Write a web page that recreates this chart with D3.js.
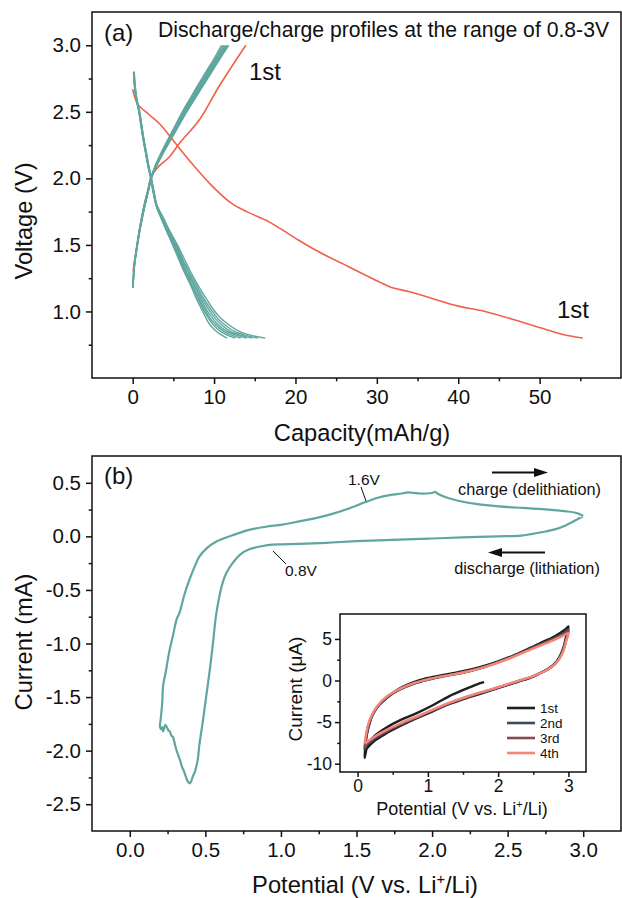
<!DOCTYPE html>
<html><head><meta charset="utf-8">
<script src="https://cdn.jsdelivr.net/npm/d3@7"></script>
<style>html,body{margin:0;padding:0;background:#fff;} svg{display:block;}</style>
</head><body><svg id="c" width="622" height="898"></svg>
<script>
// ---------- Panel (a) data ----------
const capTicks = [0, 10, 20, 30, 40, 50];
const capMinor = [5, 15, 25, 35, 45, 55];
const voltTicks = [1.0, 1.5, 2.0, 2.5, 3.0];
const voltMinor = [0.75, 1.25, 1.75, 2.25, 2.75];

const red1Discharge = [[0,2.67],[0.6,2.56],[2,2.48],[3.3,2.41],[5.3,2.26],[7.3,2.11],[9.8,1.94],[12.2,1.81],[14,1.75],[16.7,1.675],[18.2,1.62],[20.4,1.535],[22.8,1.45],[26.9,1.325],[30.2,1.225],[31.8,1.18],[33.9,1.15],[36.7,1.10],[40,1.04],[43.3,1.0],[47.3,0.93],[50.2,0.875],[53,0.825],[55.3,0.80]];
const red1Charge = [[0.05,1.3],[0.55,1.5],[1.0,1.65],[1.5,1.8],[1.9,1.9],[2.25,2.01],[3.2,2.09],[4.5,2.16],[5.7,2.26],[8.2,2.44],[10.6,2.69],[13.9,3.0]];

const tealDischargeV = [2.8,2.7,2.6,2.5,2.4,2.3,2.2,2.1,2.0,1.9,1.8,1.7,1.6,1.5,1.4,1.3,1.2,1.1,1.0,0.95,0.9,0.85,0.82,0.8];
const tealDischargeCaps = [
  [0.10,0.20,0.40,0.75,1.00,1.25,1.55,1.85,2.20,2.50,2.85,3.5,4.2,4.9,5.6,6.3,7.1,7.8,8.6,9.0,9.5,10.3,11.0,11.6],
  [0.12,0.22,0.42,0.77,1.02,1.27,1.57,1.87,2.22,2.52,2.87,3.5,4.2,5.0,5.7,6.4,7.2,8.0,8.8,9.3,9.9,10.8,11.7,12.6],
  [0.14,0.24,0.44,0.79,1.04,1.29,1.59,1.89,2.24,2.54,2.89,3.6,4.3,5.1,5.8,6.5,7.3,8.1,9.0,9.5,10.2,11.2,12.2,13.3],
  [0.15,0.25,0.45,0.80,1.05,1.30,1.60,1.90,2.25,2.56,2.91,3.6,4.4,5.2,5.9,6.6,7.5,8.3,9.2,9.8,10.5,11.6,12.8,14.0],
  [0.16,0.26,0.47,0.82,1.07,1.32,1.62,1.92,2.27,2.58,2.93,3.7,4.5,5.3,6.0,6.8,7.6,8.5,9.5,10.1,10.9,12.0,13.3,14.7],
  [0.18,0.28,0.49,0.84,1.09,1.34,1.64,1.94,2.29,2.60,2.95,3.7,4.5,5.4,6.1,6.9,7.8,8.7,9.8,10.4,11.3,12.5,13.9,15.4],
  [0.20,0.30,0.52,0.87,1.12,1.37,1.67,1.97,2.31,2.63,2.98,3.8,4.6,5.5,6.3,7.1,8.0,9.0,10.1,10.8,11.8,13.1,14.6,16.3]
];
const tealChargeV = [1.18,1.25,1.35,1.5,1.65,1.8,1.9,2.0,2.1,2.2,2.3,2.4,2.5,2.6,2.7,2.8,2.9,3.0];
const tealChargeCaps = [
  [0.05,0.07,0.18,0.52,0.92,1.40,1.80,2.20,2.80,3.55,4.40,5.25,6.10,7.05,8.00,9.00,10.00,10.90],
  [0.05,0.08,0.19,0.53,0.93,1.42,1.82,2.22,2.84,3.60,4.48,5.35,6.22,7.18,8.15,9.15,10.15,11.10],
  [0.05,0.08,0.20,0.55,0.95,1.45,1.85,2.25,2.88,3.66,4.55,5.44,6.33,7.30,8.28,9.28,10.28,11.25],
  [0.06,0.09,0.21,0.56,0.96,1.46,1.86,2.26,2.91,3.71,4.61,5.51,6.41,7.40,8.40,9.40,10.40,11.40],
  [0.06,0.09,0.22,0.57,0.97,1.48,1.88,2.28,2.94,3.76,4.67,5.58,6.50,7.50,8.51,9.52,10.52,11.52],
  [0.07,0.10,0.23,0.58,0.99,1.50,1.90,2.30,2.97,3.80,4.72,5.64,6.57,7.58,8.60,9.62,10.63,11.65],
  [0.07,0.10,0.24,0.60,1.01,1.52,1.92,2.32,3.00,3.85,4.78,5.71,6.65,7.67,8.70,9.73,10.75,11.80]
];

// ---------- Panel (b) data ----------
const potTicks = [0, 0.5, 1.0, 1.5, 2.0, 2.5, 3.0];
const potMinor = [0.25, 0.75, 1.25, 1.75, 2.25, 2.75];
const curTicks = [-2.5, -2.0, -1.5, -1.0, -0.5, 0.0, 0.5];
const curMinor = [-2.25, -1.75, -1.25, -0.75, -0.25, 0.25];
const cvLoop = [[3.0,0.19],[2.95,0.15],[2.88,0.10],[2.8,0.06],[2.75,0.045],[2.65,0.02],[2.59,0.006],[2.44,0.0],[2.2,-0.01],[2.0,-0.02],[1.78,-0.03],[1.5,-0.045],[1.3,-0.06],[1.12,-0.07],[1.0,-0.075],[0.945,-0.078],[0.88,-0.09],[0.79,-0.12],[0.73,-0.17],[0.68,-0.25],[0.64,-0.34],[0.615,-0.43],[0.59,-0.58],[0.57,-0.745],[0.55,-1.0],[0.53,-1.24],[0.505,-1.5],[0.485,-1.71],[0.46,-1.95],[0.45,-2.08],[0.43,-2.2],[0.42,-2.23],[0.405,-2.29],[0.396,-2.305],[0.385,-2.29],[0.37,-2.24],[0.355,-2.18],[0.345,-2.15],[0.335,-2.1],[0.32,-2.04],[0.31,-2.0],[0.30,-1.95],[0.295,-1.92],[0.285,-1.87],[0.275,-1.86],[0.265,-1.82],[0.255,-1.81],[0.245,-1.78],[0.235,-1.76],[0.228,-1.79],[0.22,-1.82],[0.215,-1.78],[0.208,-1.8],[0.2,-1.78],[0.205,-1.7],[0.215,-1.55],[0.22,-1.40],[0.24,-1.25],[0.26,-1.085],[0.285,-0.93],[0.31,-0.775],[0.33,-0.71],[0.36,-0.55],[0.396,-0.40],[0.43,-0.28],[0.46,-0.19],[0.51,-0.11],[0.57,-0.05],[0.68,0.01],[0.79,0.06],[0.9,0.09],[1.01,0.11],[1.12,0.14],[1.23,0.17],[1.34,0.21],[1.45,0.26],[1.56,0.32],[1.64,0.36],[1.72,0.385],[1.8,0.4],[1.84,0.41],[1.88,0.405],[1.92,0.4],[1.96,0.4],[2.0,0.405],[2.02,0.415],[2.04,0.395],[2.1,0.36],[2.18,0.33],[2.3,0.3],[2.44,0.28],[2.6,0.265],[2.77,0.25],[2.88,0.235],[2.95,0.22],[3.0,0.19]];

// ---------- Inset data ----------
const inXTicks = [0, 1, 2, 3];
const inXMinor = [0.5, 1.5, 2.5];
const inYTicks = [-10, -5, 0, 5];
const inYMinor = [-7.5, -2.5, 2.5];
const cycleNames = ["1st", "2nd", "3rd", "4th"];
const cycleColors = ["#1e1e1e", "#3e4a5c", "#8a4a4a", "#f4877a"];
const cv1st = [[1.8,-0.2],[1.7,-0.45],[1.55,-0.97],[1.3,-1.9],[1.07,-2.98],[0.85,-3.9],[0.6,-4.8],[0.4,-5.7],[0.25,-6.6],[0.15,-7.6],[0.1,-9.3],[0.11,-8.0],[0.13,-6.6],[0.17,-5.2],[0.22,-4.0],[0.3,-3.0],[0.4,-2.2],[0.5,-1.5],[0.6,-0.95],[0.8,-0.2],[1.0,0.3],[1.2,0.65],[1.4,0.95],[1.6,1.3],[1.8,1.75],[2.0,2.3],[2.2,2.95],[2.4,3.7],[2.6,4.5],[2.8,5.3],[2.95,6.1],[3.0,6.5],[2.97,5.4],[2.93,4.0],[2.87,2.8],[2.8,2.0],[2.7,1.35],[2.6,0.9],[2.49,0.45],[2.3,-0.1],[2.02,-0.85],[1.8,-1.45],[1.55,-2.1],[1.3,-2.85],[1.07,-3.7],[0.85,-4.5],[0.6,-5.5],[0.4,-6.4],[0.25,-7.2],[0.15,-8.0],[0.1,-8.6]];
const cv2nd = [[0.1,-8.3],[0.12,-7.0],[0.15,-5.6],[0.2,-4.4],[0.27,-3.35],[0.35,-2.55],[0.45,-1.85],[0.6,-1.1],[0.8,-0.4],[1.0,0.08],[1.2,0.45],[1.4,0.78],[1.6,1.15],[1.8,1.62],[2.0,2.2],[2.2,2.88],[2.4,3.6],[2.6,4.35],[2.8,5.1],[2.95,5.8],[3.0,6.2],[2.97,5.1],[2.93,3.8],[2.87,2.7],[2.8,1.95],[2.7,1.32],[2.6,0.9],[2.49,0.47],[2.3,-0.05],[2.02,-0.8],[1.8,-1.38],[1.55,-2.03],[1.3,-2.78],[1.07,-3.6],[0.85,-4.42],[0.6,-5.35],[0.4,-6.2],[0.25,-6.95],[0.15,-7.6],[0.1,-8.3]];
const cv3rd = [[0.1,-8.0],[0.12,-6.8],[0.15,-5.45],[0.2,-4.3],[0.27,-3.28],[0.35,-2.48],[0.45,-1.78],[0.6,-1.05],[0.8,-0.35],[1.0,0.12],[1.2,0.48],[1.4,0.8],[1.6,1.15],[1.8,1.61],[2.0,2.18],[2.2,2.84],[2.4,3.55],[2.6,4.28],[2.8,5.0],[2.95,5.65],[3.0,5.95],[2.97,4.95],[2.93,3.7],[2.87,2.65],[2.8,1.92],[2.7,1.31],[2.6,0.9],[2.49,0.48],[2.3,-0.02],[2.02,-0.77],[1.8,-1.34],[1.55,-1.99],[1.3,-2.74],[1.07,-3.55],[0.85,-4.36],[0.6,-5.27],[0.4,-6.1],[0.25,-6.82],[0.15,-7.45],[0.1,-8.0]];
const cv4th = [[0.1,-7.6],[0.12,-6.5],[0.15,-5.3],[0.2,-4.2],[0.27,-3.2],[0.35,-2.4],[0.45,-1.7],[0.6,-1.0],[0.8,-0.3],[1.0,0.15],[1.2,0.5],[1.4,0.8],[1.6,1.15],[1.8,1.6],[2.0,2.15],[2.2,2.8],[2.4,3.5],[2.6,4.2],[2.8,4.9],[2.95,5.5],[3.0,5.7],[2.97,4.8],[2.93,3.6],[2.87,2.6],[2.8,1.9],[2.7,1.3],[2.6,0.9],[2.49,0.5],[2.3,0.0],[2.02,-0.75],[1.8,-1.3],[1.55,-1.95],[1.3,-2.7],[1.07,-3.5],[0.85,-4.3],[0.6,-5.2],[0.4,-6.0],[0.25,-6.7],[0.15,-7.3],[0.1,-7.6]];
const insetCycles = [cv1st, cv2nd, cv3rd, cv4th];

// ---------- styles ----------
const FONT = "'Liberation Sans', Arial, Helvetica, sans-serif";
const TEAL = "#5fa69e";
const RED = "#f2604a";

const svg = d3.select("#c");
svg.append("rect").attr("width", 622).attr("height", 898).attr("fill", "#fff");

function addText(g, x, y, str, size, anchor, rot) {
  const t = g.append("text").attr("x", x).attr("y", y)
    .attr("font-family", FONT).attr("font-size", size)
    .attr("text-anchor", anchor || "start").attr("fill", "#111").text(str);
  if (rot) t.attr("transform", `rotate(${rot},${x},${y})`);
  return t;
}
function addLiText(g, x, y, size, anchor) {
  const t = g.append("text").attr("x", x).attr("y", y)
    .attr("font-family", FONT).attr("font-size", size)
    .attr("text-anchor", anchor).attr("fill", "#111");
  t.append("tspan").text("Potential (V vs. Li");
  t.append("tspan").attr("dy", -size * 0.38).attr("font-size", size * 0.62).text("+");
  t.append("tspan").attr("dy", size * 0.38).text("/Li)");
  return t;
}
const fmt1 = d => d.toFixed(1);
const fmt0 = d => d.toFixed(0);

function frameAxes(x, y, o) {
  const g = svg.append("g");
  const [x0, x1] = x.range(), [y0, y1] = y.range();
  const bx = g.append("g").attr("transform", `translate(0,${y0})`)
    .call(d3.axisBottom(x).tickValues(o.xt).tickSize(o.tl).tickPadding(o.pad).tickFormat(o.xf));
  const bxm = g.append("g").attr("transform", `translate(0,${y0})`)
    .call(d3.axisBottom(x).tickValues(o.xm).tickSize(o.tl * 0.55).tickFormat(""));
  const ly = g.append("g").attr("transform", `translate(${x0},0)`)
    .call(d3.axisLeft(y).tickValues(o.yt).tickSize(o.tl).tickPadding(o.pad).tickFormat(o.yf));
  const lym = g.append("g").attr("transform", `translate(${x0},0)`)
    .call(d3.axisLeft(y).tickValues(o.ym).tickSize(o.tl * 0.55).tickFormat(""));
  [bx, bxm, ly, lym].forEach(a => {
    a.select(".domain").remove();
    a.selectAll("line").attr("stroke", "#111").attr("stroke-width", 1.5);
    a.selectAll("text").attr("font-family", FONT).attr("font-size", o.fs).attr("fill", "#111");
  });
  g.append("rect").attr("x", x0).attr("y", y1).attr("width", x1 - x0).attr("height", y0 - y1)
    .attr("fill", "none").attr("stroke", "#111").attr("stroke-width", 1.5);
  return g;
}

// ---------- Panel (a) ----------
const xa = d3.scaleLinear().domain([-5, 60]).range([92, 621]);
const ya = d3.scaleLinear().domain([0.5, 3.25]).range([378, 12]);
const lineA = d3.line().x(d => xa(d[0])).y(d => ya(d[1])).curve(d3.curveCatmullRom);
const ga = svg.append("g");
ga.append("path").attr("d", lineA(red1Charge)).attr("fill", "none").attr("stroke", RED).attr("stroke-width", 1.6);
ga.append("path").attr("d", lineA(red1Discharge)).attr("fill", "none").attr("stroke", RED).attr("stroke-width", 1.6);
tealDischargeCaps.forEach(c => {
  const pts = c.map((v, i) => [v, tealDischargeV[i]]);
  ga.append("path").attr("d", lineA(pts)).attr("fill", "none").attr("stroke", TEAL).attr("stroke-width", 1.4);
});
tealChargeCaps.forEach(c => {
  const pts = c.map((v, i) => [v, tealChargeV[i]]);
  ga.append("path").attr("d", lineA(pts)).attr("fill", "none").attr("stroke", TEAL).attr("stroke-width", 1.4);
});
frameAxes(xa, ya, {xt: capTicks, xm: capMinor, yt: voltTicks, ym: voltMinor, xf: fmt0, yf: fmt1, tl: 6, pad: 5, fs: 20.5});
addText(svg, 104, 41, "(a)", 24);
addText(svg, 158, 37, "Discharge/charge profiles at the range of 0.8-3V", 21.2);
addText(svg, 249, 80, "1st", 24);
addText(svg, 557, 318, "1st", 24);
addText(svg, 362, 441, "Capacity(mAh/g)", 23.7, "middle");
addText(svg, 32, 221, "Voltage (V)", 23.7, "middle", -90);

// ---------- Panel (b) ----------
const xb = d3.scaleLinear().domain([-0.25, 3.25]).range([92, 621]);
const yb = d3.scaleLinear().domain([-2.75, 0.75]).range([831, 456]);
const lineB = d3.line().x(d => xb(d[0])).y(d => yb(d[1])).curve(d3.curveCatmullRom.alpha(0.5));
svg.append("path").attr("d", lineB(cvLoop)).attr("fill", "none").attr("stroke", TEAL)
  .attr("stroke-width", 2.2).attr("stroke-linejoin", "round");
frameAxes(xb, yb, {xt: potTicks, xm: potMinor, yt: curTicks, ym: curMinor, xf: fmt1, yf: fmt1, tl: 6, pad: 5, fs: 20.5});
addText(svg, 104, 484, "(b)", 24);
addLiText(svg, 365, 893, 23.7, "middle");
addText(svg, 32, 642, "Current (mA)", 23.7, "middle", -90);

// annotations
addText(svg, 348, 485, "1.6V", 15.5);
svg.append("line").attr("x1", 361).attr("y1", 487).attr("x2", 366).attr("y2", 501).attr("stroke", "#111").attr("stroke-width", 1);
addText(svg, 285, 576, "0.8V", 15.5);
svg.append("line").attr("x1", 273).attr("y1", 551).attr("x2", 286).attr("y2", 564).attr("stroke", "#111").attr("stroke-width", 1);
addText(svg, 529.5, 495, "charge (delithiation)", 16.3, "middle");
addText(svg, 527, 574, "discharge (lithiation)", 16.3, "middle");
svg.append("line").attr("x1", 492).attr("y1", 472.5).attr("x2", 536).attr("y2", 472.5).attr("stroke", "#111").attr("stroke-width", 2);
svg.append("path").attr("d", "M534,468 L548,472.5 L534,477 Z").attr("fill", "#111");
svg.append("line").attr("x1", 500).attr("y1", 552.5).attr("x2", 545).attr("y2", 552.5).attr("stroke", "#111").attr("stroke-width", 2);
svg.append("path").attr("d", "M502,548 L488,552.5 L502,557 Z").attr("fill", "#111");

// ---------- Inset ----------
const xi = d3.scaleLinear().domain([-0.25, 3.25]).range([340, 586]);
const yi = d3.scaleLinear().domain([-11, 8]).range([772, 614]);
svg.append("rect").attr("x", 340).attr("y", 614).attr("width", 246).attr("height", 158).attr("fill", "#fff");
const lineI = d3.line().x(d => xi(d[0])).y(d => yi(d[1])).curve(d3.curveCatmullRom);
insetCycles.forEach((c, i) => {
  svg.append("path").attr("d", lineI(c)).attr("fill", "none").attr("stroke", cycleColors[i])
    .attr("stroke-width", 2.4).attr("stroke-linejoin", "round");
});
frameAxes(xi, yi, {xt: inXTicks, xm: inXMinor, yt: inYTicks, ym: inYMinor, xf: fmt0, yf: fmt0, tl: 5, pad: 3, fs: 17.5});
addLiText(svg, 462, 815, 18, "middle");
addText(svg, 302, 689, "Current (\u03bcA)", 19, "middle", -90);
const leg = svg.append("g");
cycleNames.forEach((n, i) => {
  const yy = 708 + i * 15;
  leg.append("line").attr("x1", 507).attr("x2", 535).attr("y1", yy).attr("y2", yy)
    .attr("stroke", cycleColors[i]).attr("stroke-width", 2.6);
  addText(leg, 540, yy + 5, n, 13.5);
});
</script></body></html>
